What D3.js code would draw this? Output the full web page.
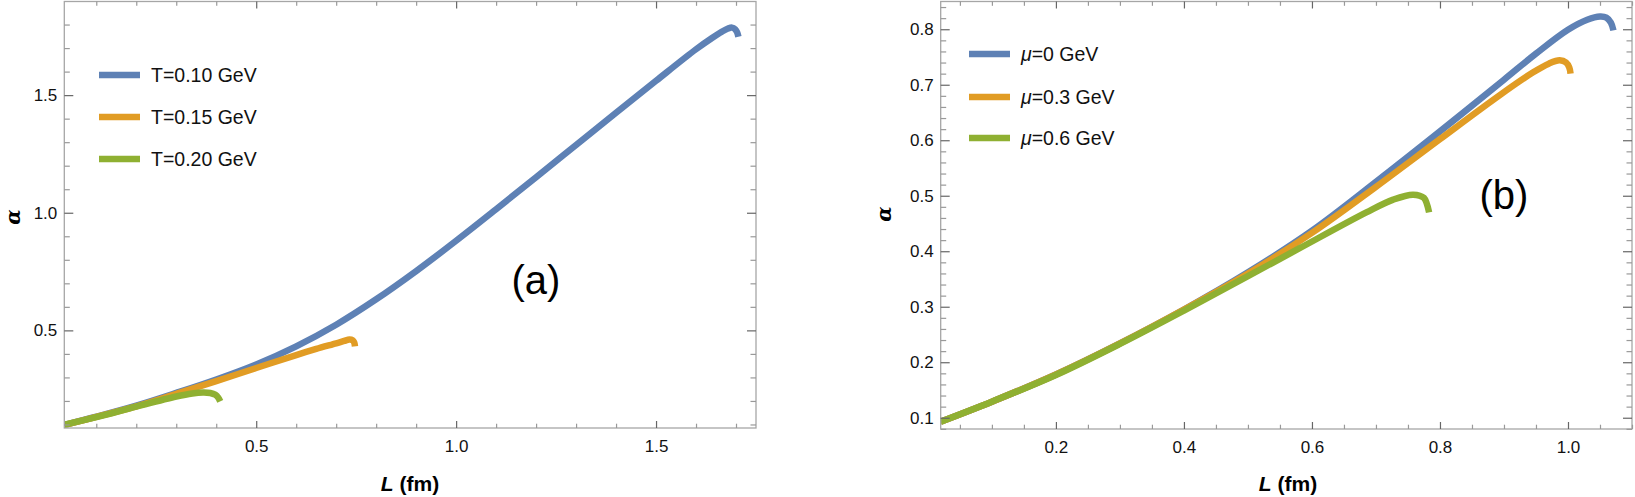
<!DOCTYPE html>
<html><head><meta charset="utf-8">
<script src="https://cdn.jsdelivr.net/npm/d3@7"></script>
<style>
body{margin:0;background:#fff;}
svg{display:block;font-family:"Liberation Sans",Arial,sans-serif;}
</style></head>
<body>
<svg id="c" width="1635" height="497"></svg>
<script>
// ---- Panel (a) data: L (fm) vs alpha ----
const aLabels = ["T=0.10 GeV", "T=0.15 GeV", "T=0.20 GeV"];
const aT010 = [[0.02,0.098],[0.1,0.133],[0.2,0.18],[0.3,0.234],[0.4,0.291],[0.5,0.355],[0.6,0.432],[0.7,0.524],[0.8,0.632],[0.9,0.752],[1.0,0.881],[1.1,1.015],[1.2,1.151],[1.3,1.288],[1.4,1.425],[1.5,1.561],[1.6,1.695],[1.64,1.743],[1.665,1.77],[1.68,1.783],[1.69,1.787],[1.698,1.78],[1.703,1.766],[1.706,1.748]];
const aT015 = [[0.02,0.098],[0.1,0.132],[0.2,0.177],[0.3,0.23],[0.4,0.284],[0.5,0.34],[0.6,0.395],[0.65,0.421],[0.7,0.445],[0.72,0.455],[0.733,0.461],[0.741,0.458],[0.745,0.449],[0.747,0.432]];
const aT020 = [[0.02,0.099],[0.1,0.131],[0.2,0.176],[0.3,0.219],[0.34,0.232],[0.367,0.236],[0.385,0.234],[0.398,0.226],[0.405,0.214],[0.41,0.198]];
const aXMajor = [0.5, 1.0, 1.5];
const aYMajor = [0.5, 1.0, 1.5];

// ---- Panel (b) data ----
const bLabels = ["=0 GeV", "=0.3 GeV", "=0.6 GeV"];
const bMu0 = [[0.02,0.093],[0.1,0.129],[0.2,0.178],[0.3,0.234],[0.4,0.295],[0.5,0.362],[0.6,0.437],[0.7,0.525],[0.8,0.616],[0.9,0.709],[0.95,0.756],[1.0,0.799],[1.03,0.817],[1.05,0.823],[1.06,0.821],[1.067,0.812],[1.071,0.798]];
const bMu03 = [[0.02,0.093],[0.1,0.129],[0.2,0.178],[0.3,0.234],[0.4,0.295],[0.5,0.36],[0.6,0.433],[0.7,0.516],[0.8,0.602],[0.893,0.681],[0.945,0.722],[0.97,0.738],[0.987,0.744],[0.997,0.74],[1.002,0.731],[1.004,0.72]];
const bMu06 = [[0.02,0.093],[0.1,0.129],[0.2,0.177],[0.3,0.233],[0.4,0.293],[0.5,0.355],[0.58,0.405],[0.685,0.47],[0.727,0.493],[0.758,0.502],[0.775,0.496],[0.783,0.47]];
const bXMajor = [0.2, 0.4, 0.6, 0.8, 1.0];
const bYMajor = [0.1, 0.2, 0.3, 0.4, 0.5, 0.6, 0.7, 0.8];

const colors = ["#5E81B5", "#E19C24", "#8FB032"];
const svg = d3.select("#c");

function range(a, b, s){ const r=[]; for(let v=a; v<=b+1e-9; v+=s) r.push(+v.toFixed(4)); return r; }

function panel(o){
  const x = d3.scaleLinear().domain(o.xd).range([o.left, o.right]);
  const y = d3.scaleLinear().domain(o.yd).range([o.bottom, o.top]);
  const g = svg.append("g");
  const cid = "clip"+o.id;
  svg.append("clipPath").attr("id", cid).append("rect")
    .attr("x", o.left).attr("y", o.top).attr("width", o.right-o.left).attr("height", o.bottom-o.top);

  const line = d3.line().x(d=>x(d[0])).y(d=>y(d[1])).curve(d3.curveCatmullRom.alpha(0.5));
  o.series.forEach((s,i)=>{
    g.append("path").attr("d", line(s)).attr("fill","none").attr("stroke", colors[i])
      .attr("stroke-width", 6.5).attr("stroke-linejoin","round").attr("stroke-linecap","butt")
      .attr("clip-path", `url(#${cid})`);
  });

  g.append("rect").attr("x", o.left).attr("y", o.top).attr("width", o.right-o.left).attr("height", o.bottom-o.top)
    .attr("fill","none").attr("stroke","#a6a6a6").attr("stroke-width",1.3);

  const isMaj = (v, arr)=> arr.some(m=>Math.abs(m-v)<1e-6);
  const xMinor = o.xMinor.filter(v=>!isMaj(v,o.xMajor));
  const yMinor = o.yMinor.filter(v=>!isMaj(v,o.yMajor));
  const fmt = d3.format(".1f");
  function styleAxis(sel, col){ sel.select(".domain").remove(); sel.selectAll(".tick line").attr("stroke", col).attr("stroke-width",1.2); }
  g.append("g").attr("transform",`translate(0,${o.bottom})`)
    .call(d3.axisBottom(x).tickValues(o.xMajor).tickSize(-7).tickPadding(12).tickFormat(fmt))
    .call(s=>styleAxis(s,"#666"))
    .call(s=>s.selectAll("text").attr("font-size",17).attr("fill","#111").attr("font-family","Liberation Sans, Arial, sans-serif"));
  g.append("g").attr("transform",`translate(0,${o.bottom})`)
    .call(d3.axisBottom(x).tickValues(xMinor).tickSize(-4.3).tickFormat(""))
    .call(s=>styleAxis(s,"#999"));
  g.append("g").attr("transform",`translate(0,${o.top})`)
    .call(d3.axisTop(x).tickValues(o.xMajor).tickSize(-7).tickFormat(""))
    .call(s=>styleAxis(s,"#666"));
  g.append("g").attr("transform",`translate(0,${o.top})`)
    .call(d3.axisTop(x).tickValues(xMinor).tickSize(-4.3).tickFormat(""))
    .call(s=>styleAxis(s,"#999"));
  g.append("g").attr("transform",`translate(${o.left},0)`)
    .call(d3.axisLeft(y).tickValues(o.yMajor).tickSize(-9).tickFormat(fmt))
    .call(s=>styleAxis(s,"#666"))
    .call(s=>s.selectAll("text").attr("font-size",17).attr("fill","#111").attr("x",-7).attr("font-family","Liberation Sans, Arial, sans-serif"));
  g.append("g").attr("transform",`translate(${o.left},0)`)
    .call(d3.axisLeft(y).tickValues(yMinor).tickSize(-5.5).tickFormat(""))
    .call(s=>styleAxis(s,"#999"));
  g.append("g").attr("transform",`translate(${o.right},0)`)
    .call(d3.axisRight(y).tickValues(o.yMajor).tickSize(-9).tickFormat(""))
    .call(s=>styleAxis(s,"#666"));
  g.append("g").attr("transform",`translate(${o.right},0)`)
    .call(d3.axisRight(y).tickValues(yMinor).tickSize(-5.5).tickFormat(""))
    .call(s=>styleAxis(s,"#999"));

  const xt = g.append("text").attr("x", o.xTitleX).attr("y", 491).attr("text-anchor","middle")
    .attr("font-size",21).attr("font-weight","bold");
  xt.append("tspan").attr("font-style","italic").text("L");
  xt.append("tspan").text(" (fm)");
  g.append("text").attr("transform",`translate(${o.yTitleX},${o.yTitleY}) rotate(-90)`)
    .attr("text-anchor","middle").attr("dominant-baseline","central")
    .attr("font-size",20).attr("font-weight","bold").attr("font-style","italic")
    .attr("font-family","DejaVu Serif, Liberation Serif, serif").text("α");

  g.append("text").attr("x", o.tagX).attr("y", o.tagY).attr("text-anchor","middle")
    .attr("font-size",40).attr("fill","#000").text(o.tag);

  o.labels.forEach((lab,i)=>{
    const ly = o.legY[i];
    g.append("line").attr("x1", o.legX).attr("x2", o.legX+41).attr("y1", ly).attr("y2", ly)
      .attr("stroke", colors[i]).attr("stroke-width", 6.5);
    const t = g.append("text").attr("x", o.legX+52).attr("y", ly+7).attr("font-size",19.5).attr("fill","#111");
    if (o.mu){ t.append("tspan").attr("font-style","italic").text("μ"); t.append("tspan").text(lab); }
    else t.text(lab);
  });
}

panel({id:"a", left:64.3, right:756, top:1.5, bottom:428, xd:[0.02,1.75], yd:[0.085,1.898],
  xMajor:aXMajor, yMajor:aYMajor, xMinor:range(0.1,1.7,0.1), yMinor:range(0.1,1.8,0.1),
  series:[aT010,aT015,aT020], labels:aLabels, mu:false, legX:99, legY:[75,117,159],
  xTitleX:410, yTitleX:13, yTitleY:217, tag:"(a)", tagX:536, tagY:294});

panel({id:"b", left:940.7, right:1632, top:1.5, bottom:429, xd:[0.02,1.1], yd:[0.0797,0.85],
  xMajor:bXMajor, yMajor:bYMajor, xMinor:range(0.05,1.1,0.05), yMinor:range(0.08,0.84,0.02),
  series:[bMu0,bMu03,bMu06], labels:bLabels, mu:true, legX:969, legY:[54,97,138],
  xTitleX:1288, yTitleX:884, yTitleY:214, tag:"(b)", tagX:1504, tagY:209});
</script>
</body></html>
